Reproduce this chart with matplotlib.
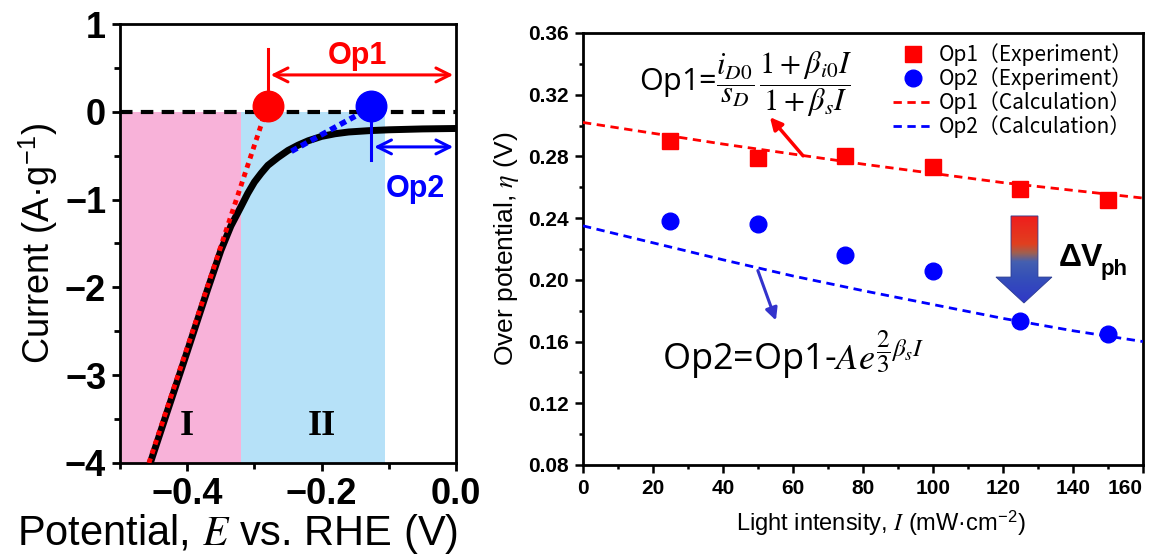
import numpy as np
import matplotlib
matplotlib.use("Agg")
import matplotlib.pyplot as plt
from matplotlib.patches import Polygon
from matplotlib.colors import LinearSegmentedColormap
from matplotlib.ticker import MultipleLocator

plt.rcParams['mathtext.fontset'] = 'stix'

# ---------------- Left panel data ----------------
E_curve = [-0.455, -0.43, -0.40, -0.37, -0.35, -0.335, -0.32, -0.31, -0.30, -0.29, -0.28,
           -0.265, -0.25, -0.235, -0.22, -0.20, -0.18, -0.16, -0.13, -0.10, -0.05, 0.0]
I_curve = [-4.0, -3.42, -2.73, -2.03, -1.58, -1.30, -1.08, -0.93, -0.80, -0.70, -0.61,
           -0.52, -0.44, -0.38, -0.33, -0.28, -0.25, -0.23, -0.215, -0.205, -0.195, -0.19]
E_fit1 = [-0.457, -0.287]
I_fit1 = [-4.0, -0.08]
E_fit2 = [-0.245, -0.15]
I_fit2 = [-0.45, -0.05]
E_op = [-0.28, -0.126]
I_op = [0.07, 0.07]
region1 = [-0.5, -0.32]
region2 = [-0.32, -0.105]

# ---------------- Right panel data ----------------
light = [25, 50, 75, 100, 125, 150]
op1_exp = [0.290, 0.279, 0.280, 0.273, 0.259, 0.252]
op2_exp = [0.238, 0.236, 0.216, 0.206, 0.173, 0.165]
light_calc = [0, 20, 40, 60, 80, 100, 120, 140, 160]
op1_calc = [0.302, 0.295, 0.288, 0.2815, 0.275, 0.269, 0.263, 0.258, 0.253]
op2_calc = [0.235, 0.224, 0.213, 0.2025, 0.193, 0.184, 0.175, 0.167, 0.160]

RED = '#ff0000'
BLUE = '#0000ff'
SANS = ['Liberation Sans', 'DejaVu Sans']
CJK = ['Noto Sans CJK JP', 'DejaVu Sans']

fig = plt.figure(figsize=(11.51, 5.57), dpi=100)

# ================= LEFT =================
ax = fig.add_axes([0.1043, 0.1688, 0.2919, 0.7881])
ax.axvspan(region1[0], region1[1], ymin=0, ymax=4/5, color='#f8b2d9', lw=0, zorder=0)
ax.axvspan(region2[0], region2[1], ymin=0, ymax=4/5, color='#b6e1f8', lw=0, zorder=0)
ax.axhline(0, color='black', lw=3, ls=(0, (3, 2)), zorder=2)
ax.plot(E_curve, I_curve, color='black', lw=5, solid_capstyle='butt',
        solid_joinstyle='round', zorder=3)
ax.plot(E_fit1, I_fit1, color=RED, lw=3.5, ls=(0, (1, 1)), zorder=4)
ax.plot(E_fit2, I_fit2, color=BLUE, lw=4, ls=(0, (1.2, 0.8)), zorder=4)
ax.plot(E_op[0], I_op[0], 'o', color=RED, ms=22, zorder=6)
ax.plot(E_op[1], I_op[1], 'o', color=BLUE, ms=22, zorder=6)
# Op1 marker line and arrow
ax.plot([E_op[0], E_op[0]], [0.72, I_op[0]], color=RED, lw=2.2, zorder=5)
ax.annotate('', xy=(0.0, 0.42), xytext=(E_op[0], 0.42),
            arrowprops=dict(arrowstyle='<->', color=RED, lw=2.2, mutation_scale=25), zorder=5)
ax.text(-0.147, 0.64, 'Op1', color=RED, fontsize=22, fontweight='bold', family=SANS,
        ha='center', va='center')
# Op2 marker line and arrow
ax.plot([E_op[1], E_op[1]], [I_op[1], -0.55], color=BLUE, lw=2.2, zorder=5)
ax.annotate('', xy=(0.0, -0.4), xytext=(E_op[1], -0.4),
            arrowprops=dict(arrowstyle='<->', color=BLUE, lw=2.2, mutation_scale=25), zorder=5)
ax.text(-0.061, -0.88, 'Op2', color=BLUE, fontsize=22, fontweight='bold', family=SANS,
        ha='center', va='center')
ax.text(-0.4, -3.58, 'I', fontsize=26, fontweight='bold', family='Liberation Serif',
        ha='center', va='center')
ax.text(-0.2, -3.58, 'II', fontsize=26, fontweight='bold', family='Liberation Serif',
        ha='center', va='center')

ax.set_xlim(-0.5, 0.0)
ax.set_ylim(-4, 1)
ax.set_xticks([-0.4, -0.2, 0.0])
ax.set_xticklabels(['\u22120.4', '\u22120.2', '0.0'])
ax.set_yticks([1, 0, -1, -2, -3, -4])
ax.set_yticklabels(['1', '0', '\u22121', '\u22122', '\u22123', '\u22124'])
ax.xaxis.set_minor_locator(MultipleLocator(0.1))
ax.yaxis.set_minor_locator(MultipleLocator(0.5))
ax.tick_params(which='major', direction='out', length=6, width=2, labelsize=26, pad=4)
ax.tick_params(which='minor', direction='out', length=4, width=2)
for lab in ax.get_xticklabels() + ax.get_yticklabels():
    lab.set_family(SANS)
    lab.set_fontweight('bold')
for s in ax.spines.values():
    s.set_linewidth(2)
ax.set_xlabel('Potential, $\\mathit{E}$ vs. RHE (V)', fontsize=30, family=SANS)
ax.xaxis.set_label_coords(0.351, -0.112)
ax.set_ylabel('Current (A\u00b7g$^{\\mathregular{-1}}$)', fontsize=26, family=SANS, labelpad=4)

# ================= RIGHT =================
bx = fig.add_axes([0.5065, 0.1652, 0.4865, 0.7756])
bx.plot(light_calc, op1_calc, color=RED, lw=2, ls=(0, (3, 2)), label='Op1\uff08Calculation\uff09', zorder=3)
bx.plot(light_calc, op2_calc, color=BLUE, lw=2, ls=(0, (3, 2)), label='Op2\uff08Calculation\uff09', zorder=3)
bx.plot(light, op1_exp, 's', color=RED, ms=11, label='Op1\uff08Experiment\uff09', zorder=4)
bx.plot(light, op2_exp, 'o', color=BLUE, ms=12, label='Op2\uff08Experiment\uff09', zorder=4)

bx.set_xlim(0, 160)
bx.set_ylim(0.08, 0.36)
bx.set_xticks(np.arange(0, 161, 20))
bx.set_yticks(np.arange(0.08, 0.361, 0.04))
bx.set_yticklabels(['%.2f' % v for v in np.arange(0.08, 0.361, 0.04)])
bx.xaxis.set_minor_locator(MultipleLocator(10))
bx.yaxis.set_minor_locator(MultipleLocator(0.02))
bx.tick_params(which='major', direction='out', length=6, width=1.8, labelsize=15, pad=4)
bx.tick_params(which='minor', direction='out', length=3, width=1.8)
for lab in bx.get_xticklabels() + bx.get_yticklabels():
    lab.set_family(SANS)
    lab.set_fontweight('bold')
bx.get_xticklabels()[-1].set_horizontalalignment('right')
for s in bx.spines.values():
    s.set_linewidth(2)
bx.set_xlabel('Light intensity, $\\mathit{I}$ (mW\u00b7cm$^{\\mathregular{-2}}$)', fontsize=17,
              family=SANS)
bx.xaxis.set_label_coords(0.532, -0.1)
bx.set_ylabel('Over potential, $\\eta$ (V)', fontsize=19, family=SANS, labelpad=5)

handles, labels = bx.get_legend_handles_labels()
order = [2, 3, 0, 1]
leg = bx.legend([handles[i] for i in order], [labels[i] for i in order],
                loc='upper right', bbox_to_anchor=(1.0, 1.0), frameon=False,
                prop={'family': CJK, 'size': 15}, handlelength=2.0,
                handletextpad=0.2, labelspacing=0.05, borderaxespad=0.1)

# formulas
bx.text(16, 0.327, 'Op1=$\\dfrac{i_{D0}}{s_D}\\,\\dfrac{1+\\beta_{i0}I}{1+\\beta_s I}$', fontsize=22,
        family=['Open Sans', 'DejaVu Sans'], ha='left', va='center')
bx.text(22.6, 0.1415, 'Op2=Op1-$Ae^{\\dfrac{2}{3}\\beta_s I}$', fontsize=26,
        family=['Open Sans', 'DejaVu Sans'], ha='left', va='baseline')
bx.annotate('', xy=(52.9, 0.3068), xytext=(63.4, 0.279),
            arrowprops=dict(arrowstyle='-|>', color=RED, lw=2.5, mutation_scale=18))
bx.annotate('', xy=(55.4, 0.172), xytext=(49.7, 0.2077),
            arrowprops=dict(arrowstyle='-|>', color='#3333cc', lw=2.2, mutation_scale=18))

# gradient arrow (Delta V_ph)
arr_x = [122.3, 130.0, 130.0, 134.0, 126.0, 118.0, 122.3]
arr_y = [0.2414, 0.2414, 0.2018, 0.2018, 0.185, 0.2018, 0.2018]
poly = Polygon(np.column_stack([arr_x, arr_y]), closed=True, facecolor='none',
               edgecolor='#2a3a90', lw=0.6, zorder=6)
bx.add_patch(poly)
cmap = LinearSegmentedColormap.from_list(
    'dv', [(0.0, '#3038c8'), (0.3, '#3550b8'), (0.47, '#4560b0'), (0.57, '#a06050'),
           (0.67, '#e04020'), (1.0, '#f01c1c')])
grad = np.linspace(0, 1, 256).reshape(-1, 1)
im = bx.imshow(grad, extent=[118.0, 134.0, 0.185, 0.2414], origin='lower', cmap=cmap,
               aspect='auto', zorder=5)
im.set_clip_path(poly)
bx.text(136.0, 0.214, '\u0394V', fontsize=23, fontweight='bold', family=SANS,
        ha='left', va='center')
bx.text(148.0, 0.2065, 'ph', fontsize=16, fontweight='bold', family=SANS,
        ha='left', va='center')
bx.set_xlim(0, 160)
bx.set_ylim(0.08, 0.36)

fig.savefig('out.png', dpi=100)
